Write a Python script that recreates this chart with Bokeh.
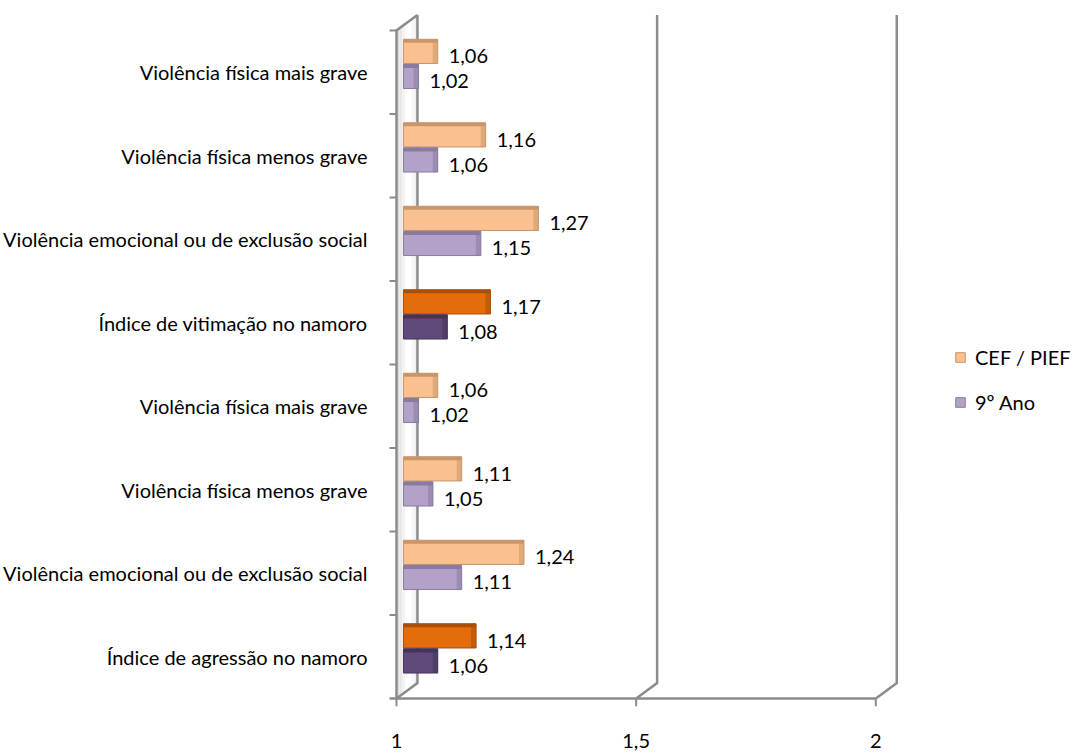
from bokeh.plotting import figure
from bokeh.models import Range1d, FixedTicker, ColumnDataSource, Legend, LegendItem
from bokeh.core.properties import value
from bokeh.embed import file_html
from bokeh.resources import INLINE

# ---------------- data ----------------
categories = [
    "Violência física mais grave",
    "Violência física menos grave",
    "Violência emocional ou de exclusão social",
    "Índice de vitimação no namoro",
    "Violência física mais grave",
    "Violência física menos grave",
    "Violência emocional ou de exclusão social",
    "Índice de agressão no namoro",
]
cef_pief = [1.06, 1.16, 1.27, 1.17, 1.06, 1.11, 1.24, 1.14]
nono_ano = [1.02, 1.06, 1.15, 1.08, 1.02, 1.05, 1.11, 1.06]
series_names = ["CEF / PIEF", "9º Ano"]
x_ticks = [1, 1.5, 2]
x_tick_labels = ["1", "1,5", "2"]

# ---------------- style ----------------
FONT = "Lato"
FS = "20px"
PX_X = 480.0          # pixels per x unit
PX_Y = 83.5           # pixels per category
DX = 21 / PX_X        # 3D depth offset
DY = 15.5 / PX_Y
GRID = "#8c8c8c"
LIGHT = {"cef": ("#FAC08F", "#C8966A"), "ano": ("#B3A2C7", "#8A7A9F")}
DARK = {"cef": ("#E46C0A", "#A94F07"), "ano": ("#604A7B", "#44345A")}
BAR_H = 0.29
PAIR_SHIFT = 0.10

n = len(categories)
centers = [n - 1 - i + 0.5 for i in range(n)]
is_index = [c.startswith("Índice") for c in categories]

W, H = 1086, 752
FL, FT, FB = 380, 10, 706     # frame left / top / bottom (px)
X0, Y0 = 395, 698             # pixel of x=1 and of y=0
p = figure(width=W, height=H, output_backend="svg", toolbar_location=None,
           x_range=Range1d(1 - (X0 - FL) / PX_X, 1 + (W - X0) / PX_X),
           y_range=Range1d(-(FB - Y0) / PX_Y, n + (Y0 - n * PX_Y - FT) / PX_Y),
           min_border_left=FL, min_border_right=0, min_border_top=FT,
           min_border_bottom=H - FB)
p.xgrid.visible = False
p.ygrid.visible = False
p.outline_line_color = None
p.background_fill_color = "white"

# side wall (3D) with a soft gradient
wall_grays = ["#dcdcdc", "#e8e8e8", "#f3f3f3", "#ffffff", "#ffffff", "#f7f7f7", "#eeeeee"]
k = len(wall_grays)
xs, ys = [], []
for j in range(k):
    a, b = j / k, (j + 1) / k
    xs.append([1 + DX * a, 1 + DX * b, 1 + DX * b, 1 + DX * a])
    ys.append([DY * a, DY * b, n + DY * b, n + DY * a])
p.patches(xs, ys, fill_color=wall_grays, line_color=None)

# grid / frame lines
tick_len_x = 7 / PX_X
tick_len_y = 8 / PX_Y
lx = [
    [1 - tick_len_x, x_ticks[-1], x_ticks[-1] + DX, x_ticks[-1] + DX],
    [x_ticks[1], x_ticks[1] + DX, x_ticks[1] + DX],
    [1, 1 + DX, 1 + DX],
    [1, 1, 1 + DX],
]
ly = [
    [0, 0, DY, n + DY],
    [0, DY, n + DY],
    [0, DY, n + DY],
    [0, n, n + DY],
]
p.multi_line(lx, ly, line_color=GRID, line_width=2.5, line_join="miter")
p.segment(x0=[1 - tick_len_x] * n, y0=list(range(1, n + 1)),
          x1=[1] * n, y1=list(range(1, n + 1)), line_color=GRID, line_width=2)
p.segment(x0=x_ticks, y0=[0] * 3, x1=x_ticks, y1=[-tick_len_y] * 3,
          line_color=GRID, line_width=2)

# bars
left = 1 + 7 / PX_X
end_pad = 12.5 / PX_X


def series(vals, key, sign):
    ycs = [c + PAIR_SHIFT + sign * 0.15 for c in centers]
    fills = [(DARK if d else LIGHT)[key][0] for d in is_index]
    edges = [(DARK if d else LIGHT)[key][1] for d in is_index]
    rights = [v + end_pad for v in vals]
    src = ColumnDataSource(dict(y=ycs, right=rights, fill=fills, edge=edges,
                                label=[f"{v:.2f}".replace(".", ",") for v in vals]))
    r = p.hbar(y="y", left=left, right="right", height=BAR_H, fill_color="fill",
               line_color="edge", line_width=1, source=src)
    # top face of 3D bar
    top_src = ColumnDataSource(dict(y=[y + BAR_H / 2 - 1.8 / PX_Y for y in ycs],
                                    right=rights, edge=edges))
    p.hbar(y="y", left=left, right="right", height=3.6 / PX_Y, fill_color="edge",
           line_color=None, source=top_src)
    # rounded end shading
    cap_src = ColumnDataSource(dict(y=ycs, l=[r_ - 5 / PX_X for r_ in rights],
                                    right=rights, edge=edges))
    p.hbar(y="y", left="l", right="right", height=BAR_H, fill_color="edge",
           fill_alpha=0.55, line_color=None, source=cap_src)
    p.text(x="right", y="y", text="label", source=src, x_offset=11, y_offset=5,
           text_baseline="middle", text_align="left", text_font=value(FONT),
           text_font_size=FS, text_color="black")
    return r


r_cef = series(cef_pief, "cef", +1)
r_ano = series(nono_ano, "ano", -1)

# axes
p.yaxis.ticker = FixedTicker(ticks=centers)
p.yaxis.major_label_overrides = {c: lab for c, lab in zip(centers, categories)}
p.yaxis.axis_line_color = None
p.yaxis.major_tick_line_color = None
p.yaxis.minor_tick_line_color = None
p.yaxis.major_label_standoff = 8
p.yaxis.major_label_text_font = FONT
p.yaxis.major_label_text_font_size = FS
p.yaxis.major_label_text_color = "black"

p.xaxis.ticker = FixedTicker(ticks=x_ticks)
p.xaxis.major_label_overrides = {t: lab for t, lab in zip(x_ticks, x_tick_labels)}
p.xaxis.axis_line_color = None
p.xaxis.major_tick_line_color = None
p.xaxis.minor_tick_line_color = None
p.xaxis.major_label_standoff = 21
p.xaxis.major_label_text_font = FONT
p.xaxis.major_label_text_font_size = FS
p.xaxis.major_label_text_color = "black"

legend = Legend(items=[LegendItem(label=series_names[0], renderers=[r_cef], index=0),
                       LegendItem(label=series_names[1], renderers=[r_ano], index=0)],
                location=(573, FB - 414), border_line_color=None, background_fill_alpha=0,
                padding=0, margin=0, spacing=21, label_height=22, glyph_height=12,
                glyph_width=12, label_standoff=9, label_text_font=FONT,
                label_text_font_size=FS, label_text_color="black")
p.add_layout(legend)

open("out.html", "w").write(file_html(p, INLINE))
